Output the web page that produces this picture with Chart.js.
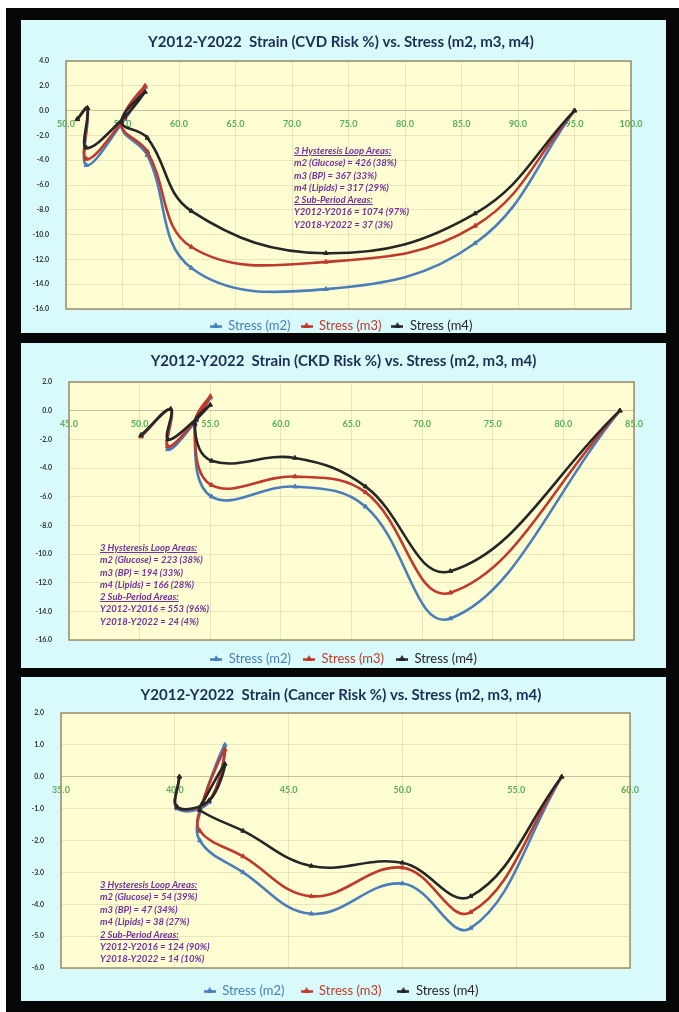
<!DOCTYPE html>
<html>
<head>
<meta charset="utf-8">
<script src="https://cdn.jsdelivr.net/npm/chart.js@4.4.0/dist/chart.umd.min.js"></script>
<style>
  html, body { margin: 0; padding: 0; background: #fff; }
  body { width: 679px; height: 1012px; position: relative; overflow: hidden; font-family: Lato, 'Open Sans', sans-serif; }
  #frame { position: absolute; left: 6px; top: 8px; width: 673px; height: 1004px; background: #060606; }
  .panel { position: absolute; left: 21px; width: 645px; background: #d8fafb; }
  .panel canvas { position: absolute; left: 0; top: 0; }
  .note { position: absolute; color: #7030a0; font: italic bold 9.5px Lato, sans-serif; line-height: 12.3px; white-space: nowrap; }
  .note u { text-decoration: underline; }
</style>
</head>
<body>
<div id="frame"></div>
<div class="panel" style="top:20px;height:313px;">
  <canvas id="cvdChart" width="645" height="322"></canvas>
  <div class="note" id="cvdNote" style="left:273px;top:125px;"></div>
</div>
<div class="panel" style="top:343px;height:325px;">
  <canvas id="ckdChart" width="645" height="332"></canvas>
  <div class="note" id="ckdNote" style="left:79px;top:199px;"></div>
</div>
<div class="panel" style="top:677px;height:324px;">
  <canvas id="cancerChart" width="645" height="330"></canvas>
  <div class="note" id="cancerNote" style="left:79px;top:202px;line-height:12.4px;"></div>
</div>
<script>
// Series labels shared by the three charts
const seriesLabels = ['Stress (m2)', 'Stress (m3)', 'Stress (m4)'];
const seriesColors = ['#4a7ebb', '#bf3a2c', '#262626'];

// CVD risk strain vs stress (yearly points, Y2012 -> Y2022)
const cvdStress = [95.0, 86.2, 73.0, 61.1, 57.2, 54.9, 57.0, 55.2, 51.8, 51.9, 51.0];
const cvdM2 = [0.0, -10.7, -14.4, -12.7, -3.6, -1.2, 1.9, -0.7, -4.4, 0.2, -0.7];
const cvdM3 = [0.0, -9.3, -12.2, -11.0, -3.3, -1.1, 2.0, -0.6, -3.9, 0.2, -0.7];
const cvdM4 = [0.0, -8.3, -11.5, -8.1, -2.2, -0.9, 1.5, -0.5, -3.0, 0.2, -0.7];
const cvdNotes = ['3 Hysteresis Loop Areas:', 'm2 (Glucose) = 426 (38%)', 'm3 (BP) = 367 (33%)',
  'm4 (Lipids) = 317 (29%)', '2 Sub-Period Areas:', 'Y2012-Y2016 = 1074 (97%)', 'Y2018-Y2022 = 37 (3%)'];

// CKD risk
const ckdStress = [84.0, 72.0, 66.0, 61.0, 55.1, 53.9, 55.0, 54.0, 52.0, 52.2, 50.1];
const ckdM2 = [0.0, -14.5, -6.7, -5.3, -6.0, -1.0, 0.9, -0.7, -2.7, 0.1, -1.8];
const ckdM3 = [0.0, -12.7, -5.7, -4.6, -5.2, -0.9, 1.0, -0.6, -2.5, 0.1, -1.8];
const ckdM4 = [0.0, -11.2, -5.3, -3.3, -3.5, -0.9, 0.4, -0.6, -2.0, 0.1, -1.7];
const ckdNotes = ['3 Hysteresis Loop Areas:', 'm2 (Glucose) = 223 (38%)', 'm3 (BP) = 194 (33%)',
  'm4 (Lipids) = 166 (28%)', '2 Sub-Period Areas:', 'Y2012-Y2016 = 553 (96%)', 'Y2018-Y2022 = 24 (4%)'];

// Cancer risk
const cancerStress = [57.0, 53.0, 50.0, 46.0, 43.0, 41.1, 41.2, 42.2, 41.5, 40.1, 40.2];
const cancerM2 = [0.0, -4.75, -3.35, -4.3, -3.0, -2.0, -0.9, 1.0, -0.8, -1.0, 0.0];
const cancerM3 = [0.0, -4.25, -2.85, -3.75, -2.5, -1.7, -0.85, 0.85, -0.75, -0.95, 0.0];
const cancerM4 = [0.0, -3.75, -2.7, -2.8, -1.7, -1.05, -0.85, 0.4, -0.75, -0.95, 0.0];
const cancerNotes = ['3 Hysteresis Loop Areas:', 'm2 (Glucose) = 54 (39%)', 'm3 (BP) = 47 (34%)',
  'm4 (Lipids) = 38 (27%)', '2 Sub-Period Areas:', 'Y2012-Y2016 = 124 (90%)', 'Y2018-Y2022 = 14 (10%)'];

// Yellow plot area with a thin frame, like the spreadsheet chart
const plotBg = {
  id: 'plotBg',
  beforeDraw(chart) {
    const { ctx, chartArea: a } = chart;
    ctx.save();
    ctx.fillStyle = '#fffed3';
    ctx.fillRect(a.left, a.top, a.right - a.left, a.bottom - a.top);
    ctx.restore();
  },
  beforeDatasetsDraw(chart) {
    const { ctx, chartArea: a } = chart;
    ctx.save();
    ctx.strokeStyle = '#9a8c6a';
    ctx.lineWidth = 1.5;
    ctx.strokeRect(a.left, a.top, a.right - a.left, a.bottom - a.top);
    ctx.restore();
  }
};

// Small line-with-triangle used as the legend symbol
function legendMarker(color) {
  const c = document.createElement('canvas');
  c.width = 12; c.height = 9;
  const g = c.getContext('2d');
  g.strokeStyle = color; g.lineWidth = 2.5;
  g.beginPath(); g.moveTo(0, 5.5); g.lineTo(12, 5.5); g.stroke();
  g.fillStyle = color;
  g.beginPath(); g.moveTo(6, 1); g.lineTo(9.5, 7); g.lineTo(2.5, 7); g.closePath(); g.fill();
  return c;
}
const markers = seriesColors.map(legendMarker);

function series(i, xs, ys) {
  return {
    label: seriesLabels[i],
    data: xs.map((x, k) => ({ x: x, y: ys[k] })),
    showLine: true,
    borderColor: seriesColors[i],
    backgroundColor: seriesColors[i],
    borderWidth: 2.6,
    pointStyle: 'triangle',
    pointRadius: 2.6,
    pointBorderWidth: 1,
    tension: 0.4,
    order: 3 - i
  };
}

function fillNote(id, lines) {
  const el = document.getElementById(id);
  el.innerHTML = lines.map((t, i) => (i === 0 || i === 4) ? '<u>' + t + '</u>' : t).join('<br>');
}

// an empty right-hand axis keeps the plot narrow while title/legend stay centred on the panel
function makeChart(id, o) {
  return new Chart(document.getElementById(id), {
    type: 'scatter',
    data: { datasets: [series(0, o.xs, o.m2), series(1, o.xs, o.m3), series(2, o.xs, o.m4)] },
    options: {
      responsive: false,
      animation: false,
      layout: { padding: { left: 0, right: o.padRight, top: 0, bottom: 0 } },
      scales: {
        x: {
          type: 'linear', position: { y: 0 }, min: o.xMin, max: o.xMax,
          ticks: { stepSize: 5, color: '#55b055', font: { size: 9, weight: 'bold', family: 'Lato' }, padding: 8,
            maxRotation: 0, autoSkip: false, callback: v => v.toFixed(1) },
          grid: { color: 'rgba(150,150,110,0.22)', drawTicks: false },
          border: { color: 'rgba(150,150,120,0.45)' }
        },
        y: {
          type: 'linear', min: o.yMin, max: o.yMax,
          ticks: { stepSize: o.yStep, color: '#333', font: { size: 7, weight: 'bold', family: 'Lato' }, padding: 17,
            callback: v => v.toFixed(1) },
          grid: { color: 'rgba(150,150,110,0.22)', drawTicks: false },
          border: { display: false },
          afterFit: s => { s.width = o.axisWidth; }
        },
        gap: {
          type: 'linear', position: 'right', display: true,
          ticks: { display: false }, grid: { display: false, drawTicks: false }, border: { display: false },
          afterFit: s => { s.width = o.rightGap; }
        }
      },
      plugins: {
        title: {
          display: true, text: o.title, color: '#1d2e55',
          font: { size: 15, weight: 'bold', family: 'Lato' },
          padding: { top: o.titleTop, bottom: o.titleBottom }
        },
        legend: {
          position: 'bottom',
          labels: {
            usePointStyle: true, pointStyleWidth: 12, padding: o.legendPad,
            font: { size: 13, family: 'Lato' },
            generateLabels: chart => chart.data.datasets.map((ds, i) => ({
              text: ds.label, fontColor: ds.borderColor, pointStyle: markers[i],
              fillStyle: ds.borderColor, strokeStyle: ds.borderColor, lineWidth: 0,
              hidden: false, datasetIndex: i
            }))
          }
        },
        tooltip: { enabled: false }
      }
    },
    plugins: [plotBg]
  });
}

makeChart('cvdChart', {
  title: 'Y2012-Y2022  Strain (CVD Risk %) vs. Stress (m2, m3, m4)',
  xs: cvdStress, m2: cvdM2, m3: cvdM3, m4: cvdM4,
  xMin: 50, xMax: 100, yMin: -16, yMax: 4, yStep: 2,
  axisWidth: 45, rightGap: 30, padRight: 5, titleTop: 13, titleBottom: 10, legendPad: 10
});
makeChart('ckdChart', {
  title: 'Y2012-Y2022  Strain (CKD Risk %) vs. Stress (m2, m3, m4)',
  xs: ckdStress, m2: ckdM2, m3: ckdM3, m4: ckdM4,
  xMin: 45, xMax: 85, yMin: -16, yMax: 2, yStep: 2,
  axisWidth: 48, rightGap: 32, padRight: 0, titleTop: 9, titleBottom: 12, legendPad: 12
});
makeChart('cancerChart', {
  title: 'Y2012-Y2022  Strain (Cancer Risk %) vs. Stress (m2, m3, m4)',
  xs: cancerStress, m2: cancerM2, m3: cancerM3, m4: cancerM4,
  xMin: 35, xMax: 60, yMin: -6, yMax: 2, yStep: 1,
  axisWidth: 40, rightGap: 31, padRight: 5, titleTop: 9, titleBottom: 9, legendPad: 16
});

fillNote('cvdNote', cvdNotes);
fillNote('ckdNote', ckdNotes);
fillNote('cancerNote', cancerNotes);
</script>
</body>
</html>
